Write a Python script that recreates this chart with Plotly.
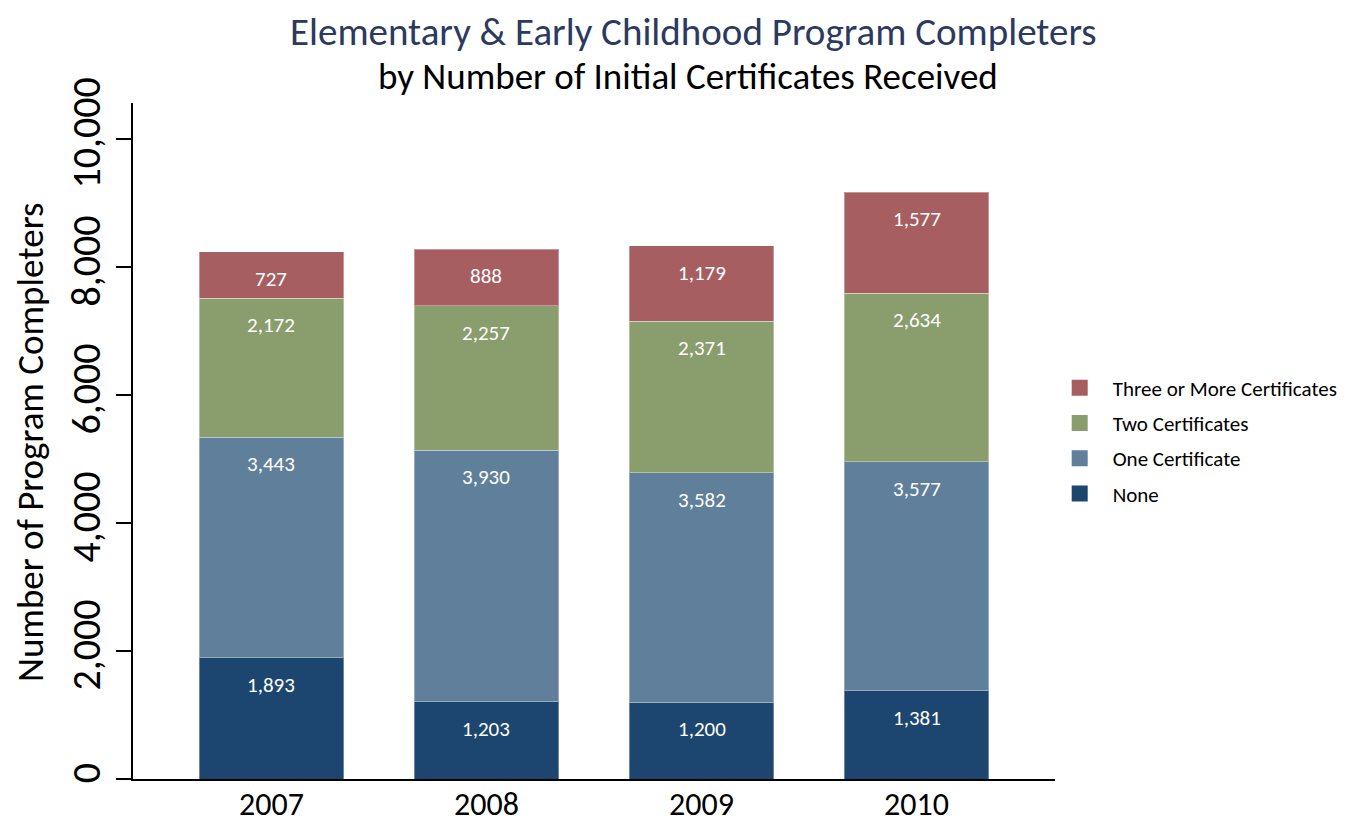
import plotly.graph_objects as go

years = ["2007", "2008", "2009", "2010"]
none_vals = [1893, 1203, 1200, 1381]
one_vals = [3443, 3930, 3582, 3577]
two_vals = [2172, 2257, 2371, 2634]
three_vals = [727, 888, 1179, 1577]

series = [
    ("None", none_vals, "#1c466f"),
    ("One Certificate", one_vals, "#5f7f9b"),
    ("Two Certificates", two_vals, "#8a9d6c"),
    ("Three or More Certificates", three_vals, "#a65e61"),
]

FONT = "Carlito, Calibri, Lato, sans-serif"

# the page body has an 8px margin, so the figure is drawn 8px smaller
W, H = 1343, 819
L, R, T, B = 125, 296, 95, 48
pw, ph = W - L - R, H - T - B

fig = go.Figure()
running = [0] * len(years)
for name, vals, color in series:
    fig.add_trace(go.Bar(
        x=years, y=vals, name=name, showlegend=False,
        marker=dict(color=color, line=dict(color="rgba(255,255,255,0.35)", width=1)),
        width=0.674,
    ))
    running = [r + v for r, v in zip(running, vals)]
    for j, (top, v) in enumerate(zip(running, vals)):
        fig.add_annotation(
            x=j, y=top, text=f"{v:,}", showarrow=False,
            yshift=-27, font=dict(color="white", size=21, family=FONT),
        )

# legend entries with bigger square swatches, top to bottom
for i, (name, vals, color) in enumerate(reversed(series)):
    fig.add_trace(go.Scatter(
        x=[None], y=[None], mode="markers", name=name,
        marker=dict(symbol="square", size=22, color=color),
        legendgroup=str(i),
    ))

fig.add_annotation(
    text="Elementary & Early Childhood Program Completers",
    xref="paper", yref="paper", x=(693 - 8 - L) / pw, y=1 + (T - (32 - 8)) / ph,
    showarrow=False, yanchor="middle", xanchor="center",
    font=dict(size=39, color="#2b3a5e", family=FONT),
)
fig.add_annotation(
    text="by Number of Initial Certificates Received",
    xref="paper", yref="paper", x=(688 - 8 - L) / pw, y=1 + (T - (76 - 8)) / ph,
    showarrow=False, yanchor="middle", xanchor="center",
    font=dict(size=37, color="black", family=FONT),
)
fig.add_annotation(
    text="Number of Program Completers",
    xref="paper", yref="paper", x=(30 - 8 - L) / pw, y=(H - B - (443 - 8)) / ph,
    showarrow=False, yanchor="middle", xanchor="center", textangle=-90,
    font=dict(size=37, color="black", family=FONT),
)

fig.update_layout(
    barmode="stack",
    width=W, height=H,
    margin=dict(l=L, r=R, t=T, b=B, autoexpand=False),
    paper_bgcolor="white", plot_bgcolor="white",
    font=dict(family=FONT, color="black"),
    showlegend=True,
    legend=dict(
        traceorder="grouped",
        x=0.991, xanchor="left", y=0.5, yanchor="middle",
        font=dict(size=21), itemwidth=56, tracegroupgap=5,
    ),
)

fig.update_xaxes(
    type="category", range=[-0.644, 3.644], automargin=False,
    showline=True, linecolor="black", linewidth=1.5,
    ticks="", tickfont=dict(size=32), showgrid=False,
    ticklabelstandoff=-4,
)
fig.update_yaxes(
    range=[0, 10560], automargin=False,
    tickvals=[0, 2000, 4000, 6000, 8000, 10000],
    tickformat=",",
    tickangle=-90,
    showline=True, linecolor="black", linewidth=1.5,
    ticks="outside", ticklen=15, tickwidth=1.5, tickcolor="black",
    tickfont=dict(size=40), showgrid=False, zeroline=False,
)

fig.write_html("out.html")
